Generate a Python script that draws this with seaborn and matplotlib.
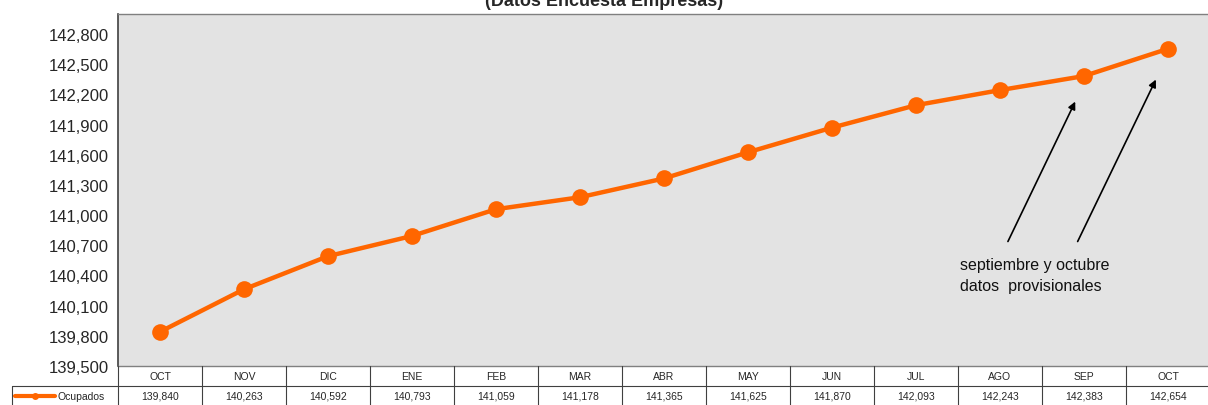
import matplotlib
matplotlib.use("Agg")
import matplotlib.pyplot as plt
import seaborn as sns
import pandas as pd

# datos: ocupados (miles), encuesta empresas
meses = ["OCT", "NOV", "DIC", "ENE", "FEB", "MAR", "ABR", "MAY", "JUN", "JUL", "AGO", "SEP", "OCT"]
ocupados = [139840, 140263, 140592, 140793, 141059, 141178, 141365, 141625, 141870, 142093, 142243, 142383, 142654]
yticks = list(range(139500, 142801, 300))

naranja = "#ff6600"

sns.set_style("white")
plt.rcParams["font.family"] = ["Liberation Sans", "DejaVu Sans"]

df = pd.DataFrame({"pos": range(len(meses)), "mes": meses, "ocupados": ocupados})

W, H = 1208, 406
fig = plt.figure(figsize=(W / 100, H / 100), dpi=100)
ax = fig.add_axes([118 / W, 1 - 367 / H, (1210 - 118) / W, (367 - 15) / H])
ax.set_facecolor("#e3e3e3")

sns.lineplot(data=df, x="pos", y="ocupados", ax=ax, color=naranja, linewidth=3.2,
             marker="o", markersize=12, markeredgewidth=0, zorder=3)

ax.set_xlim(-0.5, len(meses) - 0.5)
ax.set_ylim(139500, 143000)
ax.set_yticks(yticks)
ax.set_yticklabels([f"{v:,}" for v in yticks], fontsize=12)
ax.tick_params(axis="y", direction="inout", length=9, width=1, color="#303030", pad=2)
ax.set_xticks([])
ax.set_xlabel("")
ax.set_ylabel("")
ax.spines["left"].set_color("#404040")
ax.spines["left"].set_linewidth(1.2)
for s in ["top", "bottom", "right"]:
    ax.spines[s].set_color("#808080")
    ax.spines[s].set_linewidth(1)

# nota de datos provisionales
ax.text(9.52, 140580, "septiembre y octubre\ndatos  provisionales", fontsize=11.5,
        va="top", ha="left", linespacing=1.45, color="#111111")
ax.annotate("", xy=(10.91, 142154), xytext=(10.08, 140713),
            arrowprops=dict(arrowstyle="-|>", color="black", lw=1.2, mutation_scale=11))
ax.annotate("", xy=(11.87, 142373), xytext=(10.91, 140713),
            arrowprops=dict(arrowstyle="-|>", color="black", lw=1.2, mutation_scale=11))

fig.text(0.5, 1 - 6 / H, "(Datos Encuesta Empresas)", ha="center", va="baseline",
         fontsize=13, fontweight="bold")

# tabla de datos bajo el eje
def fx(px):
    return px / W

def fy(py):
    return 1 - py / H

col_w = (1210 - 118) / len(meses)
lc = "#404040"
fig.add_artist(plt.Line2D([fx(12), fx(1208)], [fy(387), fy(387)], color=lc, lw=0.8))
fig.add_artist(plt.Line2D([fx(12), fx(12)], [fy(387), fy(406)], color=lc, lw=0.8))
for k in range(len(meses) + 1):
    px = 118 + col_w * k
    fig.add_artist(plt.Line2D([fx(px), fx(px)], [fy(367), fy(406)], color=lc, lw=0.8))
for k, (m, v) in enumerate(zip(meses, ocupados)):
    cx = 118 + col_w * (k + 0.5)
    fig.text(fx(cx), fy(377), m, ha="center", va="center", fontsize=7.5)
    fig.text(fx(cx), fy(397), f"{v:,}", ha="center", va="center", fontsize=7.5)

fig.add_artist(plt.Line2D([fx(15), fx(55)], [fy(397), fy(397)], color=naranja, lw=3))
fig.add_artist(plt.Line2D([fx(35)], [fy(397)], color=naranja, marker="o", markersize=5,
                          markeredgewidth=0))
fig.text(fx(57), fy(397), "Ocupados", ha="left", va="center", fontsize=7.5)

fig.savefig("out.png", dpi=100)
